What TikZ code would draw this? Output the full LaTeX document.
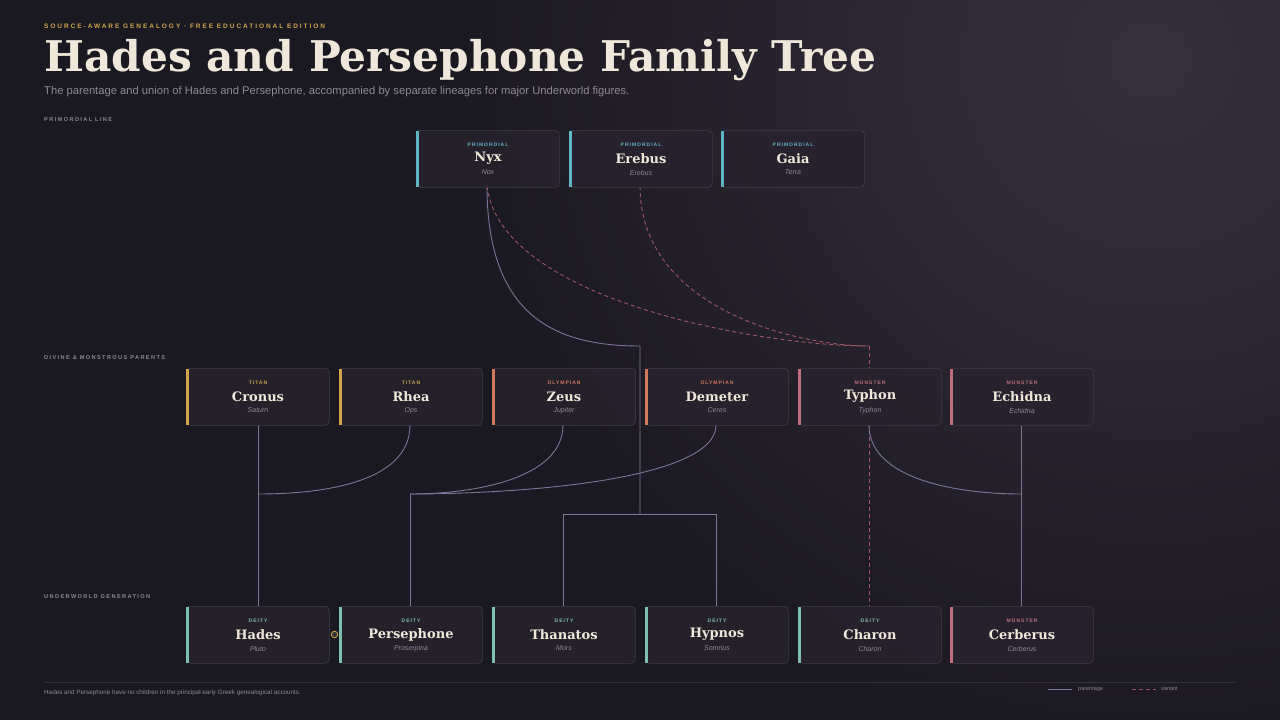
\documentclass[tikz,border=0pt]{standalone}
\usepackage{fontspec}
\setmainfont{DejaVu Serif}
\setsansfont{Liberation Sans}
\begin{document}
\definecolor{bg}{HTML}{1A1820}
\definecolor{bg2}{HTML}{37303F}
\definecolor{boxf}{HTML}{27222D}
\definecolor{boxd}{HTML}{413B4A}
\definecolor{cprim}{HTML}{5FB6C6}
\definecolor{ctitan}{HTML}{D2A64C}
\definecolor{colym}{HTML}{D47A5C}
\definecolor{cmon}{HTML}{BE6E7E}
\definecolor{cdei}{HTML}{7FBFB0}
\definecolor{lsol}{HTML}{7C7596}
\definecolor{ldash}{HTML}{A05868}
\definecolor{tname}{HTML}{EFE8DA}
\definecolor{tsub}{HTML}{8E8897}
\begin{tikzpicture}[x=1pt,y=-1pt,
  sol/.style={draw=lsol,line width=0.9pt},
  dsh/.style={draw=ldash,line width=0.9pt,dash pattern=on 4pt off 3pt},
  sec/.style={anchor=west,inner sep=0pt,font=\sffamily\bfseries\fontsize{5.6}{6}\selectfont\addfontfeatures{LetterSpace=25},text=tsub},
]
\useasboundingbox (0,0) rectangle (1280,720);
\fill[bg] (0,0) rectangle (1280,720);
\begin{scope}
\clip (0,0) rectangle (1280,720);
\shade[inner color=bg2,outer color=bg] (1150,60) circle (700pt);
\end{scope}

\newcommand{\pbox}[6]{% name x y tag color latin
  \node[draw=boxd,fill=boxf,fill opacity=0.9,rounded corners=4pt,line width=0.6pt,minimum width=143pt,minimum height=57pt,anchor=north west,inner sep=0pt] (#1) at (#2,#3) {};
  \fill[#5] (#2,#3+0.5) rectangle (#2+2.5,#3+56.5);
  \node[font=\sffamily\bfseries\fontsize{5}{6}\selectfont\addfontfeatures{LetterSpace=20},text=#5] at (#2+72,#3+14.5) {#4};
  \node[font=\bfseries\fontsize{13}{16}\selectfont,text=tname] at (#2+72,#3+28.5) {#1};
  \node[font=\sffamily\itshape\fontsize{7}{8}\selectfont,text=tsub] at (#2+72,#3+42.5) {#6};
}

% connectors (behind boxes)
\coordinate (j1) at (640,346);
\coordinate (j2) at (869,346);
\coordinate (bar) at (640,514);
\coordinate (jc) at (258,494);
\coordinate (jp) at (410,494);
\coordinate (je) at (1021,494);
\draw[sol] (487,186) .. controls (487,320) and (560,346) .. (j1) -- (bar);
\draw[sol] (563,606) -- (563,514) -- (716,514) -- (716,606);
\draw[dsh] (487,186) .. controls (500,300) and (760,346) .. (j2);
\draw[dsh] (640,186) .. controls (640,310) and (800,346) .. (j2);
\draw[dsh] (j2) -- (869,606);
\draw[sol] (258,425) -- (258,606);
\draw[sol] (410,425) .. controls (410,480) and (330,494) .. (jc);
\draw[sol] (563,425) .. controls (563,480) and (470,494) .. (jp);
\draw[sol] (716,425) .. controls (716,480) and (520,494) .. (jp);
\draw[sol] (jp) -- (410,606);
\draw[sol] (869,425) .. controls (869,480) and (960,494) .. (je);
\draw[sol] (1021,425) -- (1021,606);

\pbox{Nyx}{416}{130}{PRIMORDIAL}{cprim}{Nox}
\pbox{Erebus}{569}{130}{PRIMORDIAL}{cprim}{Erebus}
\pbox{Gaia}{721}{130}{PRIMORDIAL}{cprim}{Terra}
\pbox{Cronus}{186}{368}{TITAN}{ctitan}{Saturn}
\pbox{Rhea}{339}{368}{TITAN}{ctitan}{Ops}
\pbox{Zeus}{492}{368}{OLYMPIAN}{colym}{Jupiter}
\pbox{Demeter}{645}{368}{OLYMPIAN}{colym}{Ceres}
\pbox{Typhon}{798}{368}{MONSTER}{cmon}{Typhon}
\pbox{Echidna}{950}{368}{MONSTER}{cmon}{Echidna}
\pbox{Hades}{186}{606}{DEITY}{cdei}{Pluto}
\pbox{Persephone}{339}{606}{DEITY}{cdei}{Proserpina}
\pbox{Thanatos}{492}{606}{DEITY}{cdei}{Mors}
\pbox{Hypnos}{645}{606}{DEITY}{cdei}{Somnus}
\pbox{Charon}{798}{606}{DEITY}{cdei}{Charon}
\pbox{Cerberus}{950}{606}{MONSTER}{cmon}{Cerberus}
\node[circle,draw=ctitan,fill=black!80,line width=0.8pt,minimum size=6.5pt,inner sep=0pt] (union) at (334.5,634.5) {};

% titles
\node[anchor=west,inner sep=0pt,font=\sffamily\bfseries\fontsize{6.5}{7}\selectfont\addfontfeatures{LetterSpace=30},text=ctitan] (kick) at (44,26) {SOURCE-AWARE GENEALOGY · FREE EDUCATIONAL EDITION};
\node[anchor=west,font=\bfseries\fontsize{42.3}{50}\selectfont,text=tname,inner sep=0pt] (title) at (44,60) {Hades and Persephone Family Tree};
\node[anchor=west,font=\sffamily\fontsize{11.2}{13}\selectfont,text=tsub,inner sep=0pt] (sub) at (44,92) {The parentage and union of Hades and Persephone, accompanied by separate lineages for major Underworld figures.};
\node[sec] (s1) at (44,120) {PRIMORDIAL LINE};
\node[sec] (s2) at (44,358) {DIVINE \& MONSTROUS PARENTS};
\node[sec] (s3) at (44,597) {UNDERWORLD GENERATION};

% footer
\draw[boxd,opacity=0.6,line width=0.5pt] (44,682) -- (1236,682);
\node[anchor=west,font=\sffamily\fontsize{6.3}{7}\selectfont,text=tsub,inner sep=0pt] (foot) at (44,693) {Hades and Persephone have no children in the principal early Greek genealogical accounts.};
\coordinate (l1a) at (1048,689); \coordinate (l1b) at (1072,689);
\draw[sol] (l1a) -- (l1b);
\node[anchor=west,font=\sffamily\fontsize{5.5}{6}\selectfont,text=tsub,inner sep=0pt] (leg1) at (1078,689) {parentage};
\coordinate (l2a) at (1132,689); \coordinate (l2b) at (1156,689);
\draw[dsh] (l2a) -- (l2b);
\node[anchor=west,font=\sffamily\fontsize{5.5}{6}\selectfont,text=tsub,inner sep=0pt] (leg2) at (1161,689) {variant};
\end{tikzpicture}
\end{document}
